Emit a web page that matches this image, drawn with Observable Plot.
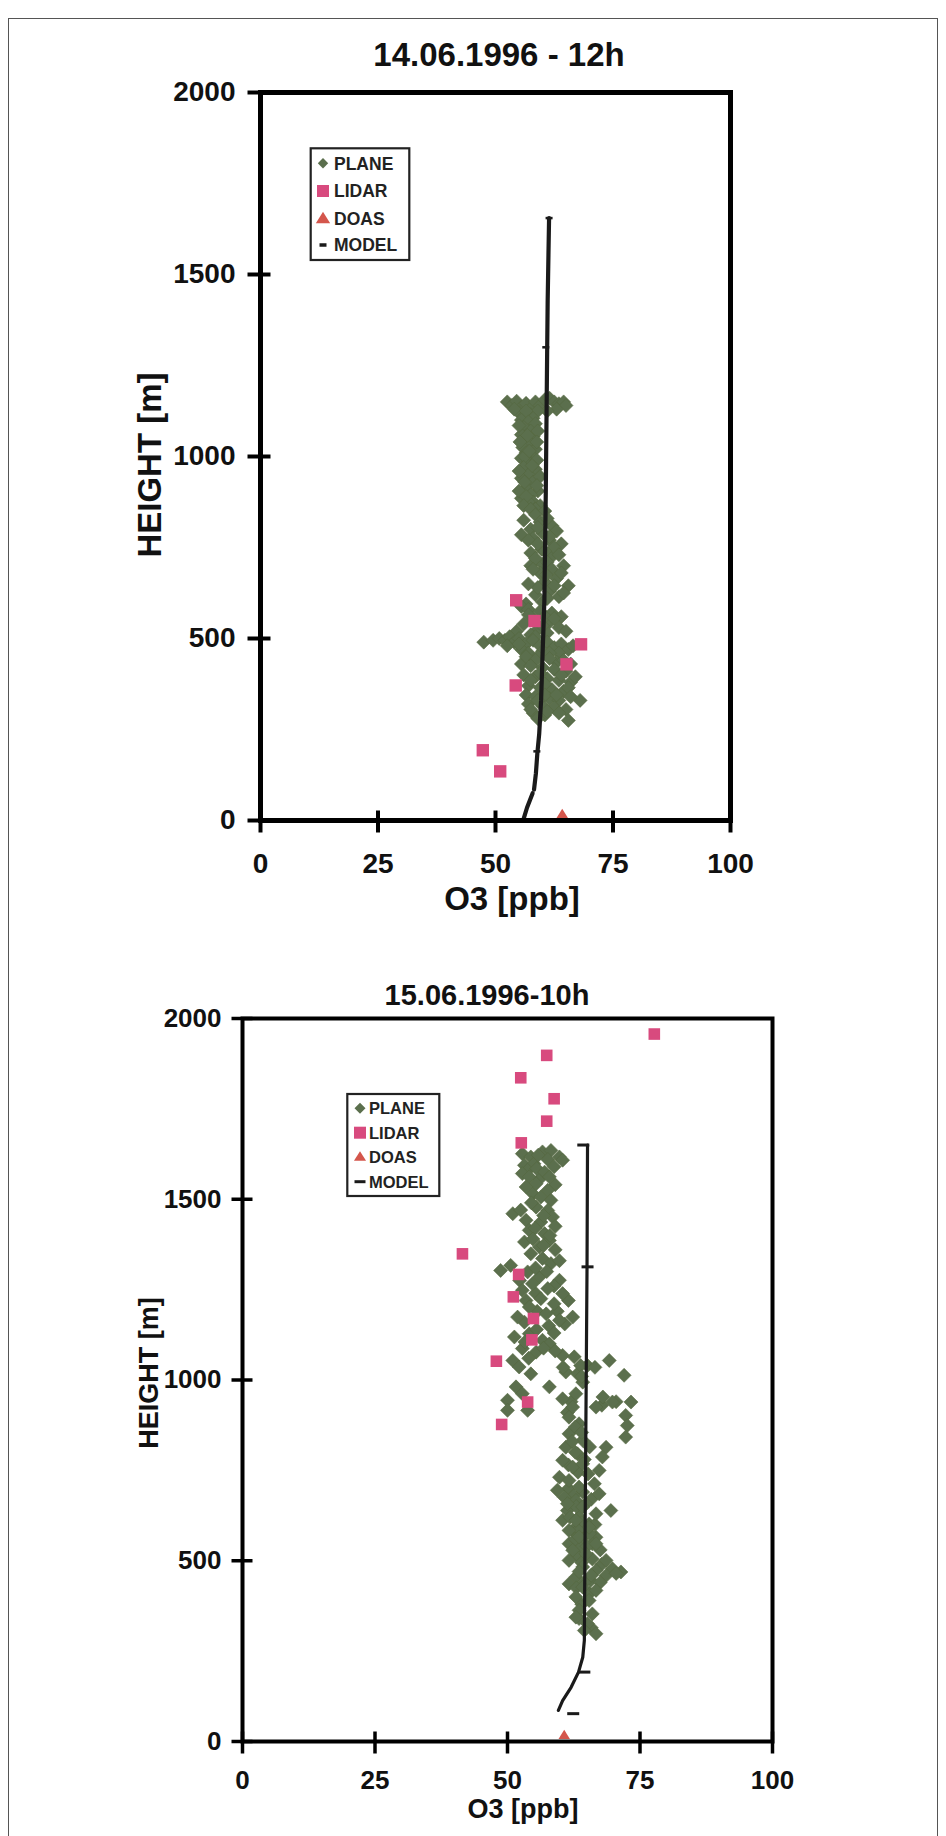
<!DOCTYPE html>
<html>
<head>
<meta charset="utf-8">
<script src="https://cdn.jsdelivr.net/npm/d3@7"></script>
<script src="https://cdn.jsdelivr.net/npm/@observablehq/plot@0.6"></script>
<style>
  body { margin: 0; background: #fff; }
  #page { position: relative; width: 946px; height: 1836px; overflow: hidden; background: #fff; font-family: "Liberation Sans", Arial, sans-serif; }
  #border { position: absolute; left: 8px; top: 18px; width: 928px; height: 1900px; border: 1.5px solid #555; }
  .chart { position: absolute; left: 0; }
  #overlay { position: absolute; left: 0; top: 0; pointer-events: none; }
</style>
</head>
<body>
<div id="page">
  <div id="border"></div>
  <div id="top" class="chart" style="top:0px"></div>
  <div id="bot" class="chart" style="top:930px"></div>
  <svg id="overlay" width="946" height="1836"></svg>
</div>
<script>
// ---------------- data ----------------
const xTicks = [0, 25, 50, 75, 100];
const yTicks = [0, 500, 1000, 1500, 2000];
const titleTop = "14.06.1996 - 12h";
const titleBot = "15.06.1996-10h";
const xLabel = "O3 [ppb]";
const yLabel = "HEIGHT [m]";
const legendLabels = ["PLANE", "LIDAR", "DOAS", "MODEL"];

// 14.06.1996 - 12h  : [O3 ppb, height m]
const planeTop = [
[52.5,1150],[53.5,1140],[54.5,1152],[55.5,1135],[56.5,1146],[57.5,1132],[58.5,1150],[59.5,1140],[60.5,1156],[61.5,1160],[62.5,1150],[63.5,1145],[64.5,1150],[65.0,1140],[63.0,1130],[61.0,1125],[55.0,1120],[56.0,1110],[57.5,1115],
[54.0,1130],[59.0,1125],[56.5,1125],[58.0,1105],
[55.5,1100],[57.0,1095],[58.5,1090],[56.0,1080],[57.5,1070],[55.5,1060],[58.0,1055],[56.5,1045],[57.5,1035],[55.8,1025],[58.5,1020],[56.5,1010],[57.8,1000],[55.5,995],[57.0,985],
[59.0,1070],[55.0,1085],[56.8,1058],[58.8,1040],[55.2,1040],[56.2,1000],[58.8,990],[57.2,1015],
[56.0,970],[58.5,965],[57.0,950],[55.5,940],[58.0,930],[56.5,915],[59.0,905],[57.5,895],[55.5,885],[58.0,875],
[55.0,960],[57.8,975],[59.5,945],[56.2,930],[58.8,920],[55.0,905],[57.0,875],[59.5,865],[56.5,890],[58.5,855],
[56.0,865],[57.5,855],[60.5,850],[58.5,840],[56.0,825],[59.5,820],[62.0,810],[57.5,800],[60.0,790],[55.5,785],[58.0,775],[61.5,770],
[59.0,805],[61.0,830],[63.0,795],[61.5,780],[57.0,770],[59.8,745],[64.0,760],[57.5,735],[62.0,725],[60.0,705],[57.5,700],
[59.0,760],[62.5,750],[60.5,740],[63.5,730],[58.5,720],[61.0,710],[64.5,700],[62.0,690],[59.5,680],[63.0,665],[60.5,655],[65.5,645],[61.5,630],[58.5,620],[63.5,615],[60.0,600],[56.5,595],
[58.0,690],[60.8,675],[64.0,680],[62.5,645],[59.0,640],[57.0,650],[64.5,625],[61.0,610],
[55.5,588],[57.0,580],[59.5,575],[62.0,570],[64.0,560],[58.0,555],[61.5,545],[56.0,540],[63.5,530],[59.0,525],[61.0,515],[57.5,510],
[60.5,560],[57.0,565],[62.5,555],[60.0,535],[54.5,520],[65.0,520],[58.5,505],
[47.5,490],[49.5,495],[50.8,500],[52.0,495],[53.0,505],[54.0,490],[55.0,500],[56.5,485],[58.0,495],[59.5,480],[61.0,490],[62.5,475],[64.0,485],[65.5,470],[66.5,480],[55.5,470],[57.0,460],[60.0,465],[63.5,460],
[52.5,480],[55.0,485],[61.5,460],[59.0,450],[63.0,435],[66.0,430],[55.5,430],
[56.5,450],[58.5,440],[61.5,445],[64.5,440],[57.5,425],[60.0,420],[62.5,415],[65.0,410],[56.0,400],[58.5,395],[61.0,390],[63.5,385],[66.0,380],[57.0,370],[59.5,365],[62.0,360],[64.5,355],[56.5,345],[58.5,340],[61.5,335],[63.5,330],[68.0,330],[57.0,320],[60.0,315],[62.5,310],[65.0,305],[58.0,295],[60.5,290],[59.0,280],[65.5,275],
[59.5,405],[64.0,400],[67.0,395],[57.5,385],[60.5,375],[65.5,365],[60.5,345],[66.0,340],[63.0,345],[59.0,330],[61.0,300],[63.5,295],[57.5,305]
];
const lidarTop = [[54.4,605],[58.3,548],[68.2,484],[65.1,429],[54.3,371],[47.3,193],[51.0,135]];
const doasTop = [[64.2,15]];
const modelTopLow = [[56.0,5],[56.7,35],[57.3,55],[57.9,75]];
const modelTopHigh = [[58.2,85],[58.6,130],[58.9,184],[59.3,238],[59.7,330],[60.0,450],[60.4,604],[60.7,900],[61.0,1300],[61.1,1428],[61.4,1655]];
const modelDashTop = [[60.7,1300],[58.8,190],[61.4,1655]];

// 15.06.1996-10h
const planeBot = [
[52.8,1626],[54.4,1617],[56.6,1631],[58.2,1635],[59.8,1617],[60.4,1608],[53.2,1594],[55.0,1598],
[55.8,1622],[57.6,1610],[53.8,1580],[56.0,1555],[58.8,1590],[59.0,1540],[54.8,1515],[55.5,1585],
[52.8,1571],[54.1,1562],[57.0,1575],[57.9,1562],[55.4,1543],[57.6,1525],[53.5,1534],[56.3,1506],[58.2,1497],
[51.0,1460],[55.4,1478],[57.6,1469],[53.5,1442],[56.3,1437],[58.5,1451],[54.1,1414],[57.0,1405],[53.2,1382],[56.0,1368],[57.9,1386],
[54.5,1490],[52.5,1470],[56.8,1455],[59.0,1425],[55.2,1420],[58.0,1400],[54.8,1390],[56.8,1372],[59.0,1360],
[54.4,1349],[56.6,1336],[58.2,1322],[48.7,1303],[50.6,1317],[53.8,1299],[56.0,1285],[59.8,1276],
[55.3,1310],[57.4,1300],[59.8,1330],[52.3,1275],[58.8,1260],[55.3,1240],[61.5,1220],[53.5,1220],[59.4,1190],[55.6,1190],[60.8,1155],[57.8,1150],[53.2,1160],
[54.7,1266],[57.6,1253],[60.4,1239],[52.8,1248],[56.3,1225],[58.8,1211],[62.3,1174],[54.1,1202],[57.3,1183],[51.9,1174],[59.8,1165],
[51.3,1119],[54.1,1128],[56.6,1110],[52.8,1087],[55.4,1077],[57.9,1100],[60.4,1068],[62.6,1064],
[55.5,1140],[58.8,1130],[53.3,1105],[56.8,1088],[59.0,1080],[54.0,1060],
[69.2,1054],[65.1,1040],[51.0,1054],[52.2,1036],[54.4,1017],[57.9,981],[61.0,1022],[63.2,1017],[72.0,1013],[64.2,994],
[60.5,1035],[63.8,1040],[66.5,1035],[64.0,1010],[70.5,940],[67.8,930],[62.0,940],[61.3,910],
[51.6,981],[52.8,962],[60.4,948],[62.9,962],[68.0,953],[69.8,939],[73.3,939],[50.0,944],[50.0,916],[53.8,916],[66.7,925],[62.3,925],[72.3,902],
[72.6,874],[72.3,842],[61.6,897],[63.5,879],[61.6,851],[64.2,833],[68.6,814],[61.0,814],[63.2,796],
[62.8,870],[64.0,855],[62.2,830],[65.5,815],[62.8,800],[64.5,780],[61.5,765],[63.3,745],[65.2,740],[61.5,700],[64.2,690],[62.5,680],[65.8,670],
[67.9,787],[67.3,750],[60.4,778],[62.3,759],[64.2,768],[66.4,713],[59.8,731],[61.6,722],[63.5,704],[59.4,695],[60.7,676],[67.3,685],[62.9,667],[64.8,658],[69.5,639],[61.3,639],[63.5,621],[60.4,612],[65.4,602],[62.3,584],[64.2,565],[66.7,565],[61.6,547],[63.5,538],[66.0,547],
[63.0,650],[61.8,620],[64.0,605],[66.5,600],[63.3,585],[65.5,575],[62.8,560],[65.0,540],[67.5,530],[63.0,515],[66.0,505],[64.0,495],[67.8,490],
[61.3,658],[64.2,649],[66.7,630],[62.9,612],[65.4,593],[61.6,584],
[63.5,566],[66.7,547],[62.3,529],[64.8,519],[68.6,501],[71.4,469],[61.6,501],[64.2,483],[66.7,473],[69.8,478],[62.9,455],[65.7,446],[68.6,459],[61.6,436],
[63.5,470],[65.8,460],[70.5,465],[64.5,440],[67.5,440],[63.0,425],[65.5,410],[64.0,380],[63.5,340],[65.8,315],
[64.2,427],[66.7,418],[62.9,400],[65.4,390],[63.5,363],[66.0,353],[62.9,344],[65.1,326],[66.7,298],[64.5,307]
];
const lidarBot = [[77.7,1957],[57.4,1898],[52.5,1836],[58.8,1778],[57.4,1716],[52.6,1656],[41.5,1349],[52.1,1292],[51.1,1230],[54.9,1170],[54.6,1111],[47.9,1052],[53.8,939],[48.9,877]];
const doasBot = [[60.7,18]];
const modelBot = [[59.6,86],[60.4,113],[62.0,150],[63.4,192],[64.2,233],[64.5,280],[64.6,500],[64.8,900],[65.0,1300],[65.1,1650]];
const modelDashBot = [[64.3,1650],[65.1,1313],[64.5,192],[62.4,77]];

// ---------------- styles ----------------
const C = { plane: "#5b6f4d", lidar: "#d84a7e", doas: "#d4564c", model: "#1a1a1a", ink: "#000" };
const FONT = "'Liberation Sans', Arial, sans-serif";

// custom symbols (size = r^2 * PI in Plot)
const rad = s => Math.sqrt(s / Math.PI);
const diamond = { draw(c, s) { const r = rad(s); c.moveTo(0,-r); c.lineTo(r,0); c.lineTo(0,r); c.lineTo(-r,0); c.closePath(); } };
const square = { draw(c, s) { const r = rad(s); c.rect(-r,-r,2*r,2*r); } };
const triangle = { draw(c, s) { const r = rad(s); c.moveTo(0,-r); c.lineTo(r*1.1,r*0.75); c.lineTo(-r*1.1,r*0.75); c.closePath(); } };
const dashSym = h => ({ draw(c, s) { const r = rad(s); c.rect(-r,-h/2,2*r,h); } });
const vTick = (up, down) => ({ draw(c) { c.moveTo(0,-up); c.lineTo(0,down); } });
const hTick = (left, right) => ({ draw(c) { c.moveTo(-left,0); c.lineTo(right,0); } });

function chart(o) {
  const X = d => d[0], Y = d => d[1];
  const marks = [
    Plot.dot(o.plane, {x: X, y: Y, symbol: diamond, r: o.rPlane, fill: C.plane, stroke: "#55683f", strokeWidth: 0.6})
  ];
  for (const seg of o.model) marks.push(Plot.line(seg, {x: X, y: Y, stroke: C.model, strokeWidth: o.lineW}));
  marks.push(
    Plot.dot(o.dash, {x: X, y: Y, symbol: dashSym(o.dashH), r: o.dashR, fill: C.model}),
    Plot.dot(o.lidar, {x: X, y: Y, symbol: square, r: o.rLidar, fill: C.lidar}),
    Plot.dot(o.doas, {x: X, y: Y, symbol: triangle, r: o.rDoas, fill: C.doas}),
    Plot.frame({stroke: C.ink, strokeWidth: o.frameW}),
    Plot.dot(xTicks, {x: d => d, y: yTicks[0], symbol: vTick(o.xUp, o.xDown), fill: "none", stroke: C.ink, strokeWidth: o.tickW}),
    Plot.dot(yTicks, {x: xTicks[0], y: d => d, symbol: hTick(o.yLeft, o.yRight), fill: "none", stroke: C.ink, strokeWidth: o.tickW}),
    Plot.axisX(xTicks, {tickSize: 0, tickPadding: o.xPad, label: null, tickFormat: d => String(d)}),
    Plot.axisY(yTicks, {tickSize: 0, tickPadding: o.yPad, label: null, tickFormat: d => String(d)})
  );
  return Plot.plot({
    width: 946, height: o.height,
    marginTop: o.mt, marginRight: o.mr, marginBottom: o.mb, marginLeft: o.ml,
    x: {domain: [0, 100]},
    y: {domain: [0, 2000]},
    style: {fontSize: o.fs + "px", fontWeight: "bold", fontFamily: FONT, color: "#111", background: "transparent", overflow: "visible"},
    marks
  });
}

document.getElementById("top").appendChild(chart({
  plane: planeTop, lidar: lidarTop, doas: doasTop, model: [modelTopLow, modelTopHigh], dash: modelDashTop,
  height: 930, mt: 92, mr: 216, mb: 110, ml: 260,
  rPlane: 7, rLidar: 6.2, rDoas: 6.2, lineW: 4.2, dashR: 3.5, dashH: 2.5,
  frameW: 5, tickW: 4, xUp: 10, xDown: 12, yLeft: 13, yRight: 10,
  xPad: 33, yPad: 25, fs: 28
}));

document.getElementById("bot").appendChild(chart({
  plane: planeBot, lidar: lidarBot, doas: doasBot, model: [modelBot], dash: modelDashBot,
  height: 906, mt: 88, mr: 174, mb: 95, ml: 242,
  rPlane: 7, rLidar: 5.8, rDoas: 5.2, lineW: 3.2, dashR: 6, dashH: 3,
  frameW: 4, tickW: 3.5, xUp: 10, xDown: 12, yLeft: 11, yRight: 10,
  xPad: 29, yPad: 21, fs: 26
}));

// ---------------- titles, axis labels, legends ----------------
const NS = "http://www.w3.org/2000/svg";
const ov = document.getElementById("overlay");
function el(tag, attrs, parent = ov) {
  const e = document.createElementNS(NS, tag);
  for (const k in attrs) e.setAttribute(k, attrs[k]);
  parent.appendChild(e);
  return e;
}
function txt(s, attrs) {
  const t = el("text", Object.assign({"font-family": FONT, "font-weight": "bold", fill: "#111"}, attrs));
  t.textContent = s;
  return t;
}
// top chart
txt(titleTop, {x: 499, y: 66, "font-size": 33, "text-anchor": "middle"});
txt(xLabel, {x: 512, y: 910, "font-size": 33, "text-anchor": "middle"});
txt(yLabel, {transform: "translate(161,465) rotate(-90)", "font-size": 33, "text-anchor": "middle"});
// bottom chart
txt(titleBot, {x: 487, y: 1005, "font-size": 29, "text-anchor": "middle"});
txt(xLabel, {x: 523, y: 1818, "font-size": 27, "text-anchor": "middle"});
txt(yLabel, {transform: "translate(158,1373) rotate(-90)", "font-size": 27, "text-anchor": "middle"});

function legend(L) {
  el("rect", {x: L.x, y: L.y, width: L.w, height: L.h, fill: "#fff", stroke: "#222", "stroke-width": 2.2});
  const sw = L.sw;
  legendLabels.forEach((lab, i) => {
    const cy = L.rows[i], cx = L.sx;
    let d;
    if (i === 0) d = `M${cx},${cy-sw.d} L${cx+sw.d},${cy} L${cx},${cy+sw.d} L${cx-sw.d},${cy} Z`;
    else if (i === 1) d = `M${cx-sw.s},${cy-sw.s} h${2*sw.s} v${2*sw.s} h${-2*sw.s} Z`;
    else if (i === 2) d = `M${cx},${cy-sw.t} L${cx+sw.t*1.1},${cy+sw.t*0.75} L${cx-sw.t*1.1},${cy+sw.t*0.75} Z`;
    else d = `M${cx-sw.m},${cy-sw.mh/2} h${2*sw.m} v${sw.mh} h${-2*sw.m} Z`;
    el("path", {d, fill: [C.plane, C.lidar, C.doas, C.model][i]});
    txt(lab, {x: L.tx, y: cy + L.fs * 0.36, "font-size": L.fs, fill: "#222"});
  });
}
legend({x: 310.7, y: 148.3, w: 98.6, h: 111.7, rows: [163.3, 191, 218.3, 245], sx: 323, tx: 334, fs: 17.5,
        sw: {d: 5.2, s: 6, t: 6.5, m: 3.5, mh: 3.5}});
legend({x: 347.3, y: 1094, w: 92, h: 102, rows: [1108.3, 1132.7, 1156.7, 1181.7], sx: 360, tx: 369, fs: 16.5,
        sw: {d: 5.5, s: 6, t: 5.5, m: 5.5, mh: 3}});
</script>
</body>
</html>
